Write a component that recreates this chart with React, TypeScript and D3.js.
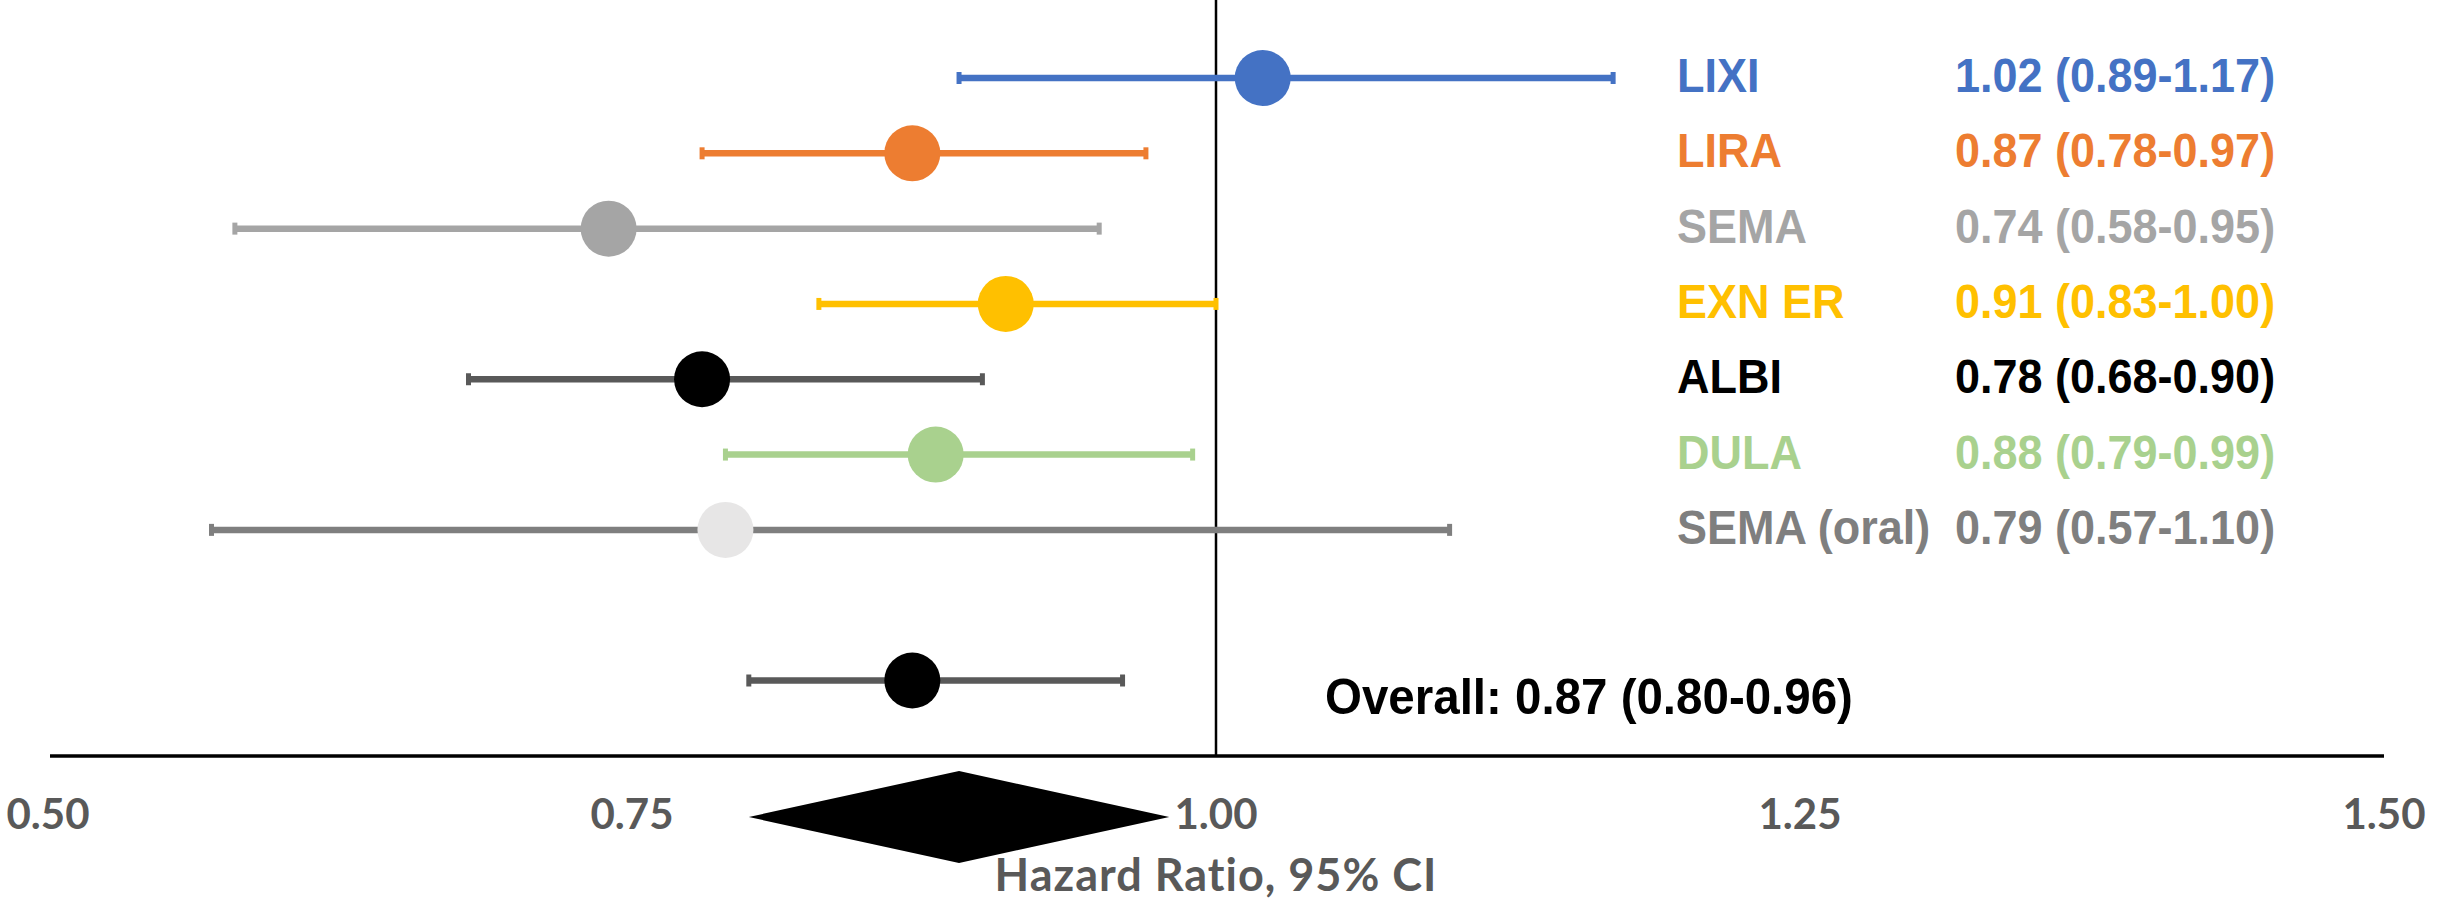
import { useEffect, useRef } from "react";
import * as d3 from "d3";

const drugs = ["LIXI", "LIRA", "SEMA", "EXN ER", "ALBI", "DULA", "SEMA (oral)"];
const hazard = [1.02, 0.87, 0.74, 0.91, 0.78, 0.88, 0.79];
const lower = [0.89, 0.78, 0.58, 0.83, 0.68, 0.79, 0.57];
const upper = [1.17, 0.97, 0.95, 1.0, 0.9, 0.99, 1.1];
const dotColors = ["#4472C4", "#ED7D31", "#A5A5A5", "#FFC000", "#000000", "#A9D18E", "#E7E6E6"];
const barColors = ["#4472C4", "#ED7D31", "#A5A5A5", "#FFC000", "#595959", "#A9D18E", "#7F7F7F"];
const textColors = ["#4472C4", "#ED7D31", "#A5A5A5", "#FFC000", "#000000", "#A9D18E", "#7F7F7F"];

const overallHR = 0.87;
const overallLow = 0.8;
const overallHigh = 0.96;
const diamondVals = [0.8, 0.89, 0.98];

const xTicks = [0.5, 0.75, 1.0, 1.25, 1.5];

export default function App() {
  const svgRef = useRef<SVGSVGElement | null>(null);

  useEffect(() => {
    const width = 2455;
    const height = 907;
    const svg = d3.select(svgRef.current);
    svg.selectAll("*").remove();
    svg.attr("width", width).attr("height", height);

    const x = d3.scaleLinear().domain([0.5, 1.5]).range([48, 2384]);
    const y = d3.scaleLinear().domain([0, 8]).range([78, 680.5]);
    const axisY = 756;

    // reference line at HR = 1
    svg.append("line")
      .attr("x1", x(1)).attr("x2", x(1))
      .attr("y1", 0).attr("y2", axisY)
      .attr("stroke", "#000").attr("stroke-width", 2.5);

    // x axis baseline
    svg.append("line")
      .attr("x1", x(0.5) + 2).attr("x2", x(1.5))
      .attr("y1", axisY).attr("y2", axisY)
      .attr("stroke", "#000").attr("stroke-width", 3.5);

    const rows = drugs.map((name, i) => ({
      name, i, hr: hazard[i], lo: lower[i], hi: upper[i],
      dot: dotColors[i], bar: barColors[i], text: textColors[i],
    }));
    const all = [...rows, { name: "Overall", i: 8, hr: overallHR, lo: overallLow, hi: overallHigh, dot: "#000", bar: "#595959", text: "#000" }];

    const g = svg.append("g");
    const rowG = g.selectAll("g.row").data(all).join("g").attr("class", "row");

    rowG.append("line")
      .attr("x1", d => x(d.lo)).attr("x2", d => x(d.hi))
      .attr("y1", d => y(d.i)).attr("y2", d => y(d.i))
      .attr("stroke", d => d.bar).attr("stroke-width", 6.5);

    rowG.selectAll("line.cap")
      .data(d => [d.lo, d.hi].map(v => ({ v, d })))
      .join("line").attr("class", "cap")
      .attr("x1", c => x(c.v)).attr("x2", c => x(c.v))
      .attr("y1", c => y(c.d.i) - 6).attr("y2", c => y(c.d.i) + 6)
      .attr("stroke", c => c.d.bar).attr("stroke-width", 5);

    rowG.append("circle")
      .attr("cx", d => x(d.hr)).attr("cy", d => y(d.i))
      .attr("r", 28).attr("fill", d => d.dot);

    const font = "'Liberation Sans', Arial, sans-serif";

    // drug names
    g.selectAll("text.name").data(rows).join("text")
      .attr("class", "name")
      .attr("transform", d => `translate(1677,${y(d.i) + 14}) scale(1,1.05)`)
      .attr("font-family", font).attr("font-weight", "bold").attr("font-size", 45)
      .attr("fill", d => d.text)
      .text(d => d.name);

    // estimates
    g.selectAll("text.val").data(rows).join("text")
      .attr("class", "val")
      .attr("transform", d => `translate(1955,${y(d.i) + 14}) scale(1,1.05)`)
      .attr("font-family", font).attr("font-weight", "bold").attr("font-size", 45)
      .attr("fill", d => d.text)
      .text(d => `${d.hr.toFixed(2)} (${d.lo.toFixed(2)}-${d.hi.toFixed(2)})`);

    g.append("text")
      .attr("transform", `translate(1325,${y(8) + 33}) scale(1,1.05)`)
      .attr("font-family", font).attr("font-weight", "bold").attr("font-size", 47.5)
      .attr("fill", "#000")
      .text(`Overall: ${overallHR.toFixed(2)} (${overallLow.toFixed(2)}-${overallHigh.toFixed(2)})`);

    // tick labels
    svg.selectAll("text.tick").data(xTicks).join("text")
      .attr("class", "tick")
      .attr("x", d => x(d)).attr("y", 829)
      .attr("text-anchor", "middle")
      .attr("font-family", "Lato, sans-serif").attr("font-weight", "bold").attr("font-size", 42)
      .attr("fill", "#595959")
      .text(d => d.toFixed(2));

    // summary diamond
    const dy = 817;
    const pts: [number, number][] = [
      [x(diamondVals[0]), dy],
      [x(diamondVals[1]), dy - 46],
      [x(diamondVals[2]), dy],
      [x(diamondVals[1]), dy + 46],
    ];
    svg.append("path")
      .attr("d", d3.line()(pts) + "Z")
      .attr("fill", "#000");

    svg.append("text")
      .attr("x", x(1)).attr("y", 891)
      .attr("text-anchor", "middle")
      .attr("font-family", "Lato, sans-serif").attr("font-weight", "bold").attr("font-size", 45)
      .attr("letter-spacing", 1)
      .attr("fill", "#595959")
      .text("Hazard Ratio, 95% CI");
  }, []);

  return (
    <div style={{ position: "absolute", left: 0, top: 0 }}>
      <svg ref={svgRef} style={{ display: "block" }}></svg>
    </div>
  );
}
